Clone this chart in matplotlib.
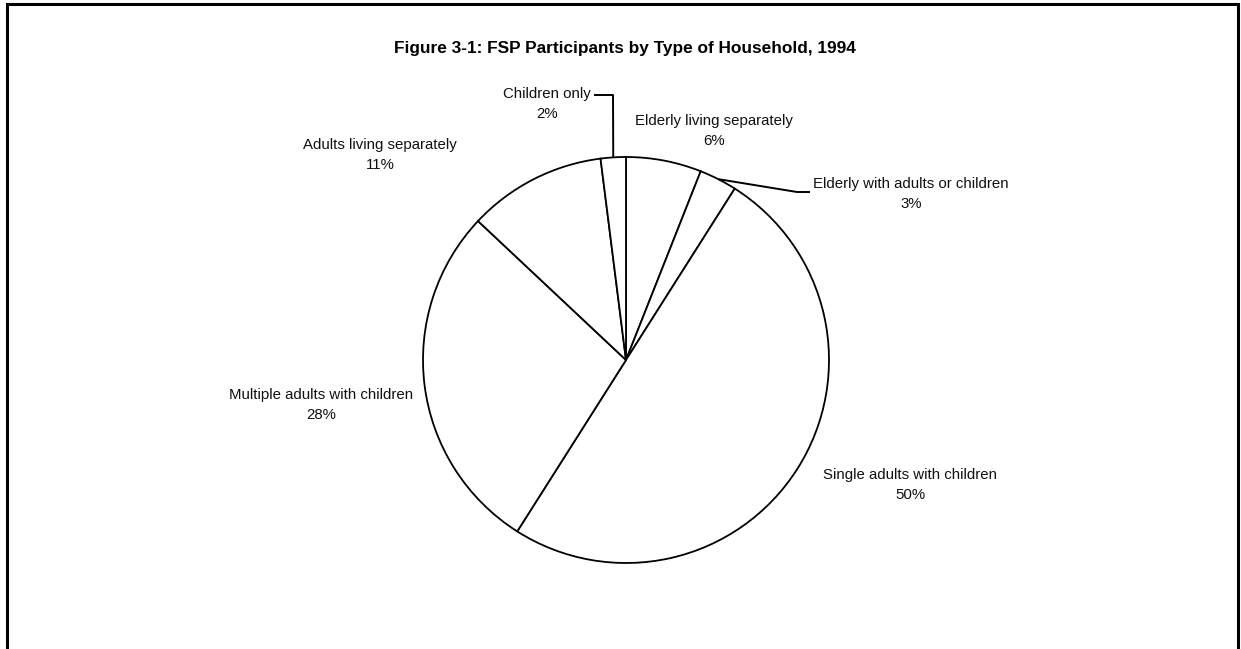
import numpy as np
import matplotlib
matplotlib.use("Agg")
import matplotlib.pyplot as plt

# household types, clockwise from 12 o'clock
categories = ["Elderly living separately", "Elderly with adults or children",
              "Single adults with children", "Multiple adults with children",
              "Adults living separately", "Children only"]
shares = [6, 3, 50, 28, 11, 2]

W, H = 1241, 649
fig = plt.figure(figsize=(W / 100, H / 100), dpi=100)
ax = fig.add_axes([0, 0, 1, 1])

cx, cy, r = 626, H - 360, 203
wedges, _ = ax.pie(shares, center=(cx, cy), radius=r, startangle=90,
                   counterclock=False, frame=True,
                   wedgeprops=dict(facecolor="white", edgecolor="black",
                                   linewidth=1.3))
ax.set_xlim(0, W)
ax.set_ylim(0, H)
ax.set_aspect("equal")
ax.axis("off")

font = dict(family=["Liberation Sans", "DejaVu Sans"])

# label centres (x, y from top) and optional leader elbows
label_pos = [(714, 131), (911, 194), (910, 485), (321, 405), (380, 155), (547, 104)]
leaders = {1: [(797, 192), (810, 192)],
           5: [(613, 95), (594, 95)]}

for i, (name, val) in enumerate(zip(categories, shares)):
    lx, ly = label_pos[i]
    ax.text(lx, H - ly, f"{name}\n{val}%", ha="center", va="center",
            fontsize=10.8, linespacing=1.55, color="#111111", **font)
    if i in leaders:
        w = wedges[i]
        mid = np.deg2rad((w.theta1 + w.theta2) / 2)
        pts = [(cx + r * np.cos(mid), cy + r * np.sin(mid))]
        pts += [(px, H - py) for px, py in leaders[i]]
        xs, ys = zip(*pts)
        ax.plot(xs, ys, color="black", lw=1.4, solid_capstyle="butt")

ax.text(625, H - 48, "Figure 3-1: FSP Participants by Type of Household, 1994",
        ha="center", va="center", fontsize=12.4, fontweight="bold", **font)

# frame round the figure (open at the bottom)
ax.plot([7, 7, 1238, 1238], [0, H - 4, H - 4, 0], color="black", lw=2.2,
        solid_joinstyle="miter")

fig.savefig("out.png", dpi=100, facecolor="white")
